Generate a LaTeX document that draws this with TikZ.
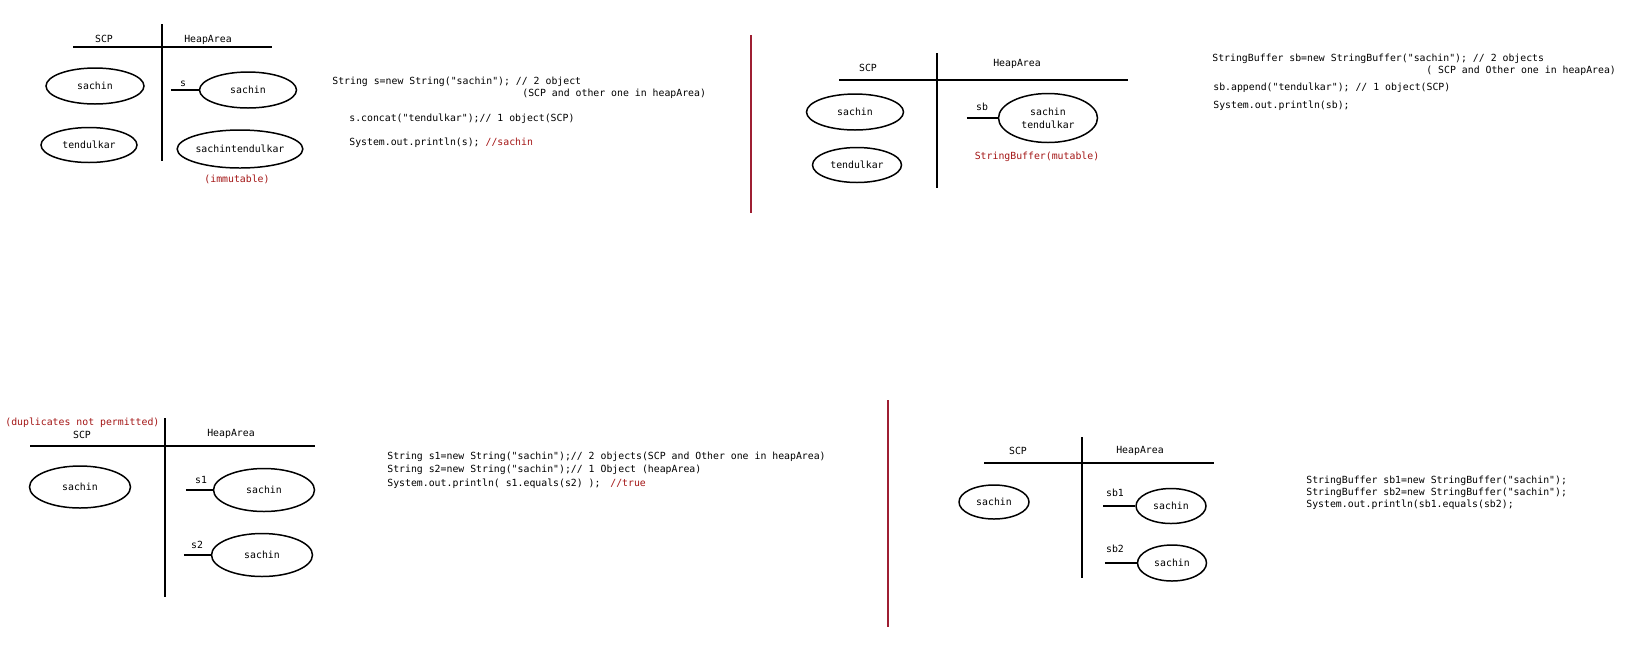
\documentclass[tikz,border=0pt]{standalone}
\usepackage{fontspec}
\setmonofont{DejaVu Sans Mono}
\usetikzlibrary{shapes.geometric}
\definecolor{codered}{HTML}{A31515}
\definecolor{rulered}{HTML}{9E1F32}
\newcommand{\codefont}{\ttfamily\fontsize{5.6}{7.4}\selectfont}
\tikzset{
  obj/.style={ellipse, draw, line width=0.85pt, inner sep=0pt},
  code/.style={anchor=base west, inner sep=0pt},
  head/.style={anchor=base, inner sep=0pt},
  wall/.style={line width=1.1pt},
  ref/.style={line width=1.1pt}
}
\begin{document}
\begin{tikzpicture}[x=0.02cm, y=-0.02cm, font=\codefont]
        \useasboundingbox (0, 0) rectangle (1646, 657);
        % String, concat
        \draw[wall] (162, 24) -- (162, 161);
        \draw[wall] (73, 47) -- (272, 47);
        \node[head] (scpA) at (104, 42) {SCP};
        \node[head] (heapA) at (208, 42) {HeapArea};
        \node[obj, minimum width=1.96cm, minimum height=0.72cm] (sachinA) at (95, 86) {sachin};
        \node[obj, minimum width=1.92cm, minimum height=0.70cm] (tendA) at (89, 145) {tendulkar};
        \node[obj, minimum width=1.94cm, minimum height=0.72cm] (heapsachinA) at (248, 90) {sachin};
        \node[obj, minimum width=2.48cm, minimum height=0.76cm] (joinA) at (240, 149) {sachintendulkar};
        \path (heapsachinA.west) ++(-28, 0) coordinate (sA);
        \draw[ref] (sA) -- (heapsachinA.west);
        \node[head] (sAlabel) at (183, 86) {s};
        \node[head, text=codered] (immut) at (237, 182) {(immutable)};
        \node[code] (codeA1) at (332, 84) {String s=new String("sachin"); // 2 object};
        \node[code] (codeA2) at (522, 96) {(SCP and other one in heapArea)};
        \node[code] (codeA3) at (349, 121) {s.concat("tendulkar");// 1 object(SCP)};
        \node[code] (codeA4) at (349, 145) {System.out.println(s); \textcolor{codered}{//sachin}};
        % StringBuffer, append
        \draw[line width=1.1pt, rulered] (751, 35) -- (751, 213);
        \draw[wall] (937, 53) -- (937, 188);
        \draw[wall] (839, 80) -- (1128, 80);
        \node[head] (scpB) at (868, 71) {SCP};
        \node[head] (heapB) at (1017, 66) {HeapArea};
        \node[obj, minimum width=1.94cm, minimum height=0.72cm] (sachinB) at (855, 112) {sachin};
        \node[obj, minimum width=1.78cm, minimum height=0.70cm] (tendB) at (857, 165) {tendulkar};
        \node[obj, minimum width=1.98cm, minimum height=0.98cm, align=center] (bufB) at (1048, 118) {sachin\\tendulkar};
        \path (bufB.west) ++(-31, 0) coordinate (sbB);
        \draw[ref] (sbB) -- (bufB.west);
        \node[head] (sbBlabel) at (982, 110) {sb};
        \node[head, text=codered] (mut) at (1037, 159) {StringBuffer(mutable)};
        \node[code] (codeB1) at (1212, 61) {StringBuffer sb=new StringBuffer("sachin"); // 2 objects};
        \node[code] (codeB2) at (1426, 73) {( SCP and Other one in heapArea)};
        \node[code] (codeB3) at (1213, 90) {sb.append("tendulkar"); // 1 object(SCP)};
        \node[code] (codeB4) at (1213, 108) {System.out.println(sb);};
        % String, equals
        \draw[wall] (165, 418) -- (165, 597);
        \draw[wall] (30, 446) -- (315, 446);
        \node[code, text=codered] (dup) at (5, 425) {(duplicates not permitted)};
        \node[head] (scpC) at (82, 438) {SCP};
        \node[head] (heapC) at (231, 436) {HeapArea};
        \node[obj, minimum width=2.02cm, minimum height=0.84cm] (sachinC) at (80, 487) {sachin};
        \node[obj, minimum width=2.02cm, minimum height=0.86cm] (sOne) at (264, 490) {sachin};
        \node[obj, minimum width=2.02cm, minimum height=0.86cm] (sTwo) at (262, 555) {sachin};
        \path (sOne.west) ++(-27, 0) coordinate (sOneEnd);
        \path (sTwo.west) ++(-27, 0) coordinate (sTwoEnd);
        \draw[ref] (sOneEnd) -- (sOne.west);
        \draw[ref] (sTwoEnd) -- (sTwo.west);
        \node[head] (sOnelabel) at (201, 483) {s1};
        \node[head] (sTwolabel) at (197, 548) {s2};
        \node[code] (codeC1) at (387, 459) {String s1=new String("sachin");// 2 objects(SCP and Other one in heapArea)};
        \node[code] (codeC2) at (387, 472) {String s2=new String("sachin");// 1 Object (heapArea)};
        \node[code] (codeC3) at (387, 486) {System.out.println( s1.equals(s2) );};
        \node[code, text=codered] (trueC) at (610, 486) {//true};
        % StringBuffer, equals
        \draw[line width=1.1pt, rulered] (888, 400) -- (888, 627);
        \draw[wall] (1082, 437) -- (1082, 578);
        \draw[wall] (984, 463) -- (1214, 463);
        \node[head] (scpD) at (1018, 454) {SCP};
        \node[head] (heapD) at (1140, 453) {HeapArea};
        \node[obj, minimum width=1.40cm, minimum height=0.68cm] (sachinD) at (994, 502) {sachin};
        \node[obj, minimum width=1.40cm, minimum height=0.70cm] (sbOne) at (1171, 506) {sachin};
        \node[obj, minimum width=1.38cm, minimum height=0.72cm] (sbTwo) at (1172, 563) {sachin};
        \path (sbOne.west) ++(-32, 0) coordinate (sbOneEnd);
        \path (sbTwo.west) ++(-32, 0) coordinate (sbTwoEnd);
        \draw[ref] (sbOneEnd) -- (sbOne.west);
        \draw[ref] (sbTwoEnd) -- (sbTwo.west);
        \node[head] (sbOnelabel) at (1115, 496) {sb1};
        \node[head] (sbTwolabel) at (1115, 552) {sb2};
        \node[code] (codeD1) at (1306, 483) {StringBuffer sb1=new StringBuffer("sachin");};
        \node[code] (codeD2) at (1306, 495) {StringBuffer sb2=new StringBuffer("sachin");};
        \node[code] (codeD3) at (1306, 507) {System.out.println(sb1.equals(sb2);};
      \end{tikzpicture}
\end{document}
